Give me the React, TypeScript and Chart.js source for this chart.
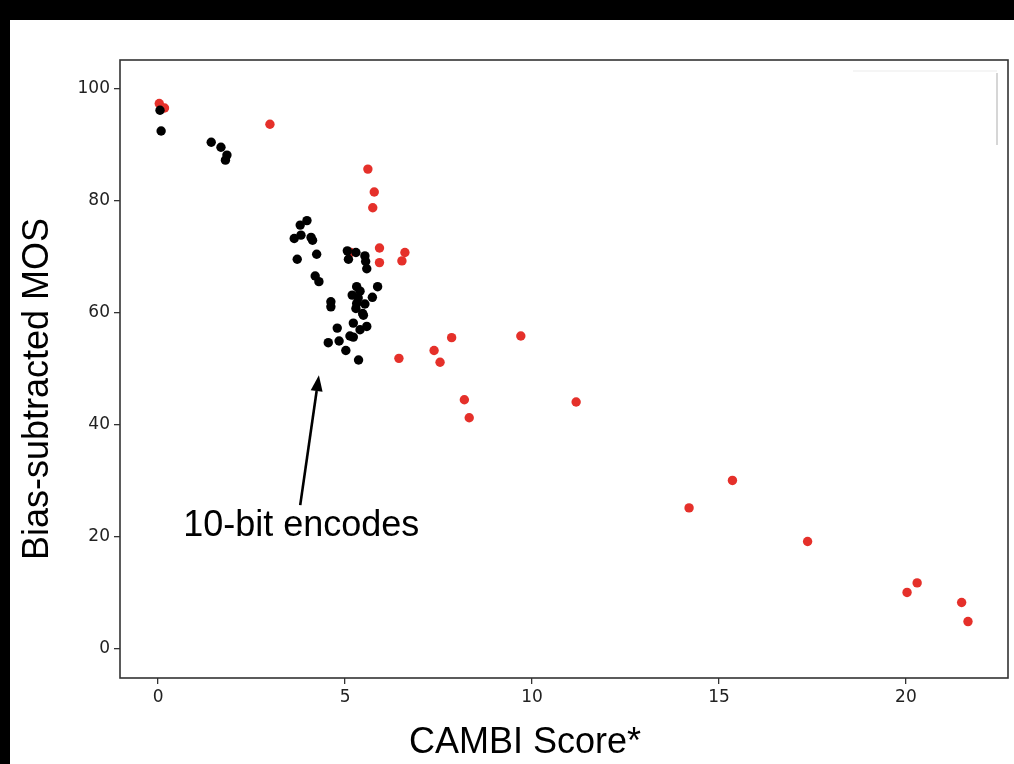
import React, { useEffect, useRef } from "react";
import { Chart, registerables } from "chart.js";

Chart.register(...registerables);

// ---------- data ----------
const blackX = [0.05, 0.08, 1.42, 1.68, 1.84, 1.8, 3.98, 3.8, 3.64, 3.82, 4.09, 4.13, 3.72, 4.24, 4.2, 4.3,
  5.06, 5.29, 5.09, 5.53, 5.55, 5.58, 5.87, 5.31, 5.4, 5.19, 5.35, 5.73, 5.31, 5.53, 5.29, 5.47, 5.49,
  4.62, 4.62, 4.79, 5.22, 5.58, 5.4, 5.13, 5.22, 4.55, 4.84, 5.02, 5.36];
const blackY = [96.2, 92.5, 90.5, 89.6, 88.2, 87.3, 76.5, 75.7, 73.3, 73.9, 73.5, 73.0, 69.6, 70.5, 66.6, 65.6,
  71.1, 70.8, 69.6, 70.2, 69.2, 67.9, 64.7, 64.7, 63.9, 63.2, 62.7, 62.8, 61.7, 61.6, 60.8, 59.9, 59.6,
  62.0, 61.1, 57.3, 58.2, 57.6, 57.0, 55.9, 55.7, 54.7, 55.0, 53.3, 51.6];
const redX = [0.03, 0.17, 2.99, 5.61, 5.78, 5.74, 5.15, 5.92, 5.92, 6.6, 6.52, 6.44, 7.38, 7.54, 7.85, 8.19,
  8.32, 9.7, 11.18, 14.2, 15.36, 17.37, 20.03, 20.3, 21.49, 21.66];
const redY = [97.4, 96.6, 93.7, 85.7, 81.6, 78.8, 70.8, 71.6, 69.0, 70.8, 69.3, 51.9, 53.3, 51.2, 55.6, 44.5,
  41.3, 55.9, 44.1, 25.2, 30.1, 19.2, 10.1, 11.8, 8.3, 4.9];
const xTicks = [0, 5, 10, 15, 20];
const yTicks = [0, 20, 40, 60, 80, 100];
const xTitle = "CAMBI Score*";
const yTitle = "Bias-subtracted MOS";
const noteText = "10-bit encodes";
const noteTail = { x: 3.8, y: 25.7 };
const noteTip = { x: 4.3, y: 48.9 };
const noteLabel = { x: 0.67, y: 22.0 };

const W = 1014;
const H = 764;

const framePlugin = {
  id: "framePlugin",
  beforeDraw(chart: any) {
    const ctx = chart.ctx;
    ctx.save();
    ctx.fillStyle = "#000";
    ctx.fillRect(0, 0, W, H);
    ctx.fillStyle = "#fff";
    ctx.fillRect(10, 20, W - 10, H - 20);
    ctx.restore();
  },
  afterDraw(chart: any) {
    const ctx = chart.ctx;
    const a = chart.chartArea;
    const xs = chart.scales.x;
    const ys = chart.scales.y;
    ctx.save();
    // faint empty legend box
    ctx.strokeStyle = "#f2f2f2";
    ctx.lineWidth = 1.5;
    ctx.beginPath();
    ctx.moveTo(853, 71);
    ctx.lineTo(997, 71);
    ctx.stroke();
    ctx.strokeStyle = "#d6d6d6";
    ctx.lineWidth = 2;
    ctx.beginPath();
    ctx.moveTo(997, 73);
    ctx.lineTo(997, 145);
    ctx.stroke();
    // frame
    ctx.strokeStyle = "#333";
    ctx.lineWidth = 1.6;
    ctx.strokeRect(a.left, a.top, a.right - a.left, a.bottom - a.top);
    // axis titles
    ctx.fillStyle = "#000";
    ctx.font = "36px 'Liberation Sans', Arial, sans-serif";
    ctx.textAlign = "center";
    ctx.textBaseline = "middle";
    ctx.fillText(xTitle, 525, 743);
    ctx.save();
    ctx.translate(38, 389);
    ctx.rotate(-Math.PI / 2);
    ctx.fillText(yTitle, 0, 0);
    ctx.restore();
    // annotation
    const tx = xs.getPixelForValue(noteTail.x);
    const ty = ys.getPixelForValue(noteTail.y);
    const hx = xs.getPixelForValue(noteTip.x);
    const hy = ys.getPixelForValue(noteTip.y);
    const ang = Math.atan2(hy - ty, hx - tx);
    const headLen = 16;
    const headW = 6;
    const bx = hx - headLen * Math.cos(ang);
    const by = hy - headLen * Math.sin(ang);
    ctx.strokeStyle = "#000";
    ctx.lineWidth = 2.6;
    ctx.beginPath();
    ctx.moveTo(tx, ty);
    ctx.lineTo(bx, by);
    ctx.stroke();
    ctx.fillStyle = "#000";
    ctx.beginPath();
    ctx.moveTo(hx, hy);
    ctx.lineTo(bx + headW * Math.sin(ang), by - headW * Math.cos(ang));
    ctx.lineTo(bx - headW * Math.sin(ang), by + headW * Math.cos(ang));
    ctx.closePath();
    ctx.fill();
    ctx.font = "36px 'Liberation Sans', Arial, sans-serif";
    ctx.textAlign = "left";
    ctx.textBaseline = "middle";
    ctx.fillText(noteText, xs.getPixelForValue(noteLabel.x), ys.getPixelForValue(noteLabel.y));
    ctx.restore();
  },
};

export default function App() {
  const ref = useRef<HTMLCanvasElement | null>(null);
  useEffect(() => {
    if (!ref.current) return;
    const black = blackX.map((x, i) => ({ x, y: blackY[i] }));
    const red = redX.map((x, i) => ({ x, y: redY[i] }));
    const tickFont = { family: "'DejaVu Sans', sans-serif", size: 17 };
    const chart = new Chart(ref.current, {
      type: "scatter",
      data: {
        datasets: [
          { label: "8-bit", data: black, backgroundColor: "#000", pointRadius: 4.7, pointBorderWidth: 0, pointHoverRadius: 4.7 },
          { label: "10-bit", data: red, backgroundColor: "#e5302a", pointRadius: 4.7, pointBorderWidth: 0, pointHoverRadius: 4.7 },
        ],
      },
      options: {
        responsive: false,
        animation: false,
        devicePixelRatio: 1,
        layout: { padding: { left: 10, top: 60, right: 6, bottom: 0 } },
        plugins: { legend: { display: false }, tooltip: { enabled: false } },
        scales: {
          x: {
            type: "linear",
            min: -1.02,
            max: 22.73,
            afterFit: (s: any) => { s.height = 86; },
            afterBuildTicks: (s: any) => { s.ticks = xTicks.map((v) => ({ value: v })); },
            border: { display: false },
            grid: { display: true, drawOnChartArea: false, drawTicks: true, tickLength: 6, color: "#333", lineWidth: 1.3 },
            ticks: { font: tickFont, color: "#222", padding: 3, maxRotation: 0, autoSkip: false },
          },
          y: {
            type: "linear",
            min: -5.18,
            max: 105.18,
            afterFit: (s: any) => { s.width = 110; },
            afterBuildTicks: (s: any) => { s.ticks = yTicks.map((v) => ({ value: v })); },
            border: { display: false },
            grid: { display: true, drawOnChartArea: false, drawTicks: true, tickLength: 6, color: "#333", lineWidth: 1.3 },
            ticks: { font: tickFont, color: "#222", padding: 4, autoSkip: false },
          },
        },
      },
      plugins: [framePlugin],
    });
    return () => chart.destroy();
  }, []);
  return (
    <canvas
      ref={ref}
      width={W}
      height={H}
      style={{ position: "fixed", left: 0, top: 0, width: W, height: H, display: "block" }}
    />
  );
}
